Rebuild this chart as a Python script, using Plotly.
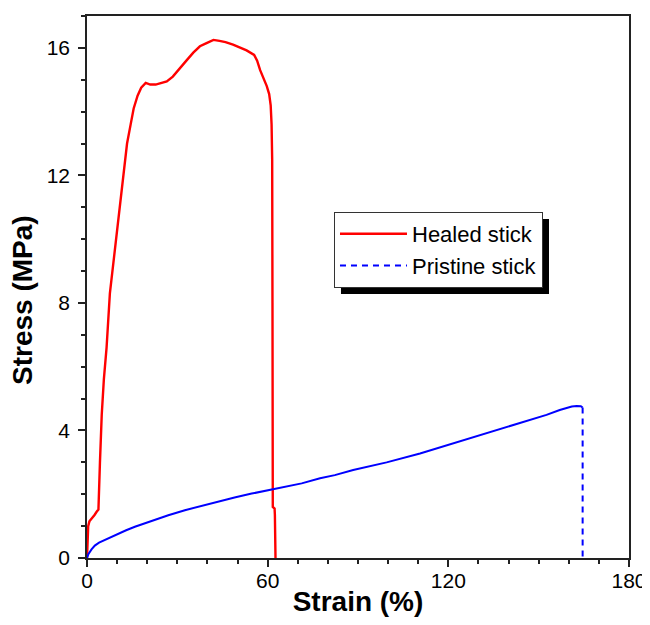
"""Stress-strain curves of healed vs pristine stick."""

import plotly.graph_objects as go

# Healed stick (red, solid)
healed_strain = [0, 0.2, 0.4, 0.8, 1.5, 2.5, 3.2, 3.8, 4.3, 4.9, 5.6, 6.5, 7.6,
                 9.2, 11.0, 12.3, 13.3, 14.5, 15.5, 16.8, 18.0, 19.5, 21.0,
                 22.8, 24.5, 26.5, 28.5, 30.9, 33.0, 35.3, 37.5, 39.7, 42.0,
                 44.0, 46.0, 48.5, 51.0, 53.0, 55.5, 56.5, 57.5, 58.7, 59.7,
                 60.5, 61.0, 61.3, 61.5, 61.6, 61.7, 62.3, 62.4, 62.6]
healed_stress = [0, 0.5, 1.0, 1.15, 1.22, 1.35, 1.45, 1.52, 3.0, 4.5, 5.6, 6.6,
                 8.3, 9.6, 11.1, 12.2, 13.0, 13.6, 14.1, 14.5, 14.75, 14.9,
                 14.85, 14.85, 14.9, 14.95, 15.1, 15.35, 15.6, 15.85, 16.05,
                 16.15, 16.25, 16.22, 16.18, 16.1, 16.0, 15.92, 15.78, 15.6,
                 15.3, 15.05, 14.8, 14.55, 14.2, 13.6, 12.5, 8.0, 1.6, 1.55,
                 1.35, 0]

# Pristine stick (blue)
pristine_strain = [0, 0.5, 1.5, 2.6, 4.0, 6.0, 8.0, 10.4, 13.0, 15.9, 21.4,
                   27.0, 32.5, 38.0, 43.6, 49.0, 54.7, 61.3, 71.3, 77.4, 82.3,
                   88.4, 99.5, 110.6, 121.6, 132.7, 143.8, 152.6, 157.0, 159.3,
                   161.0, 162.6, 164.0, 164.6]
pristine_stress = [0, 0.13, 0.27, 0.39, 0.48, 0.57, 0.66, 0.75, 0.87, 0.98,
                   1.17, 1.34, 1.5, 1.64, 1.77, 1.9, 2.02, 2.14, 2.34, 2.5,
                   2.6, 2.76, 3.0, 3.28, 3.6, 3.93, 4.23, 4.49, 4.64, 4.71,
                   4.75, 4.77, 4.76, 4.72]
break_strain = [164.6, 164.6]
break_stress = [4.72, 0]

x_ticks = [0, 60, 120, 180]
y_ticks = [0, 4, 8, 12, 16]

FONT = "Arial, Liberation Sans, sans-serif"
AXIS_COLOR = "#222222"

fig = go.Figure()

fig.add_trace(go.Scatter(
    x=healed_strain, y=healed_stress, mode="lines", name="Healed stick",
    line=dict(color="#ff0000", width=2.4)
))
fig.add_trace(go.Scatter(
    x=pristine_strain, y=pristine_stress, mode="lines", showlegend=False,
    line=dict(color="#0000ff", width=2)
))
fig.add_trace(go.Scatter(
    x=break_strain, y=break_stress, mode="lines", name="Pristine stick",
    line=dict(color="#0000ff", width=2, dash="6px,5px")
))

axis_common = dict(
    showline=True, linecolor=AXIS_COLOR, linewidth=1.5, mirror=True,
    ticks="outside", ticklen=7, tickwidth=1.5, tickcolor=AXIS_COLOR,
    showgrid=False, zeroline=False, ticklabeloverflow="allow",
    tickfont=dict(family=FONT, size=21, color="black"),
)
title_font = dict(family=FONT, size=28, color="black")

fig.update_xaxes(
    range=[0, 180], tickvals=x_ticks, ticklabelstandoff=-4,
    minor=dict(dtick=10, ticks="outside", ticklen=4, tickcolor=AXIS_COLOR,
               tickwidth=1.5),
    title=dict(text="<b>Strain (%)</b>", font=title_font, standoff=11),
    **axis_common
)
fig.update_yaxes(
    range=[0, 17], tickvals=y_ticks, ticklabelstandoff=4,
    minor=dict(dtick=1, ticks="outside", ticklen=4, tickcolor=AXIS_COLOR,
               tickwidth=1.5),
    **axis_common
)

# y axis title sits a little below the plot centre in the original
fig.add_annotation(
    text="<b>Stress (MPa)</b>", textangle=-90, showarrow=False,
    xref="paper", yref="paper", x=0, y=0.476, xanchor="center",
    yanchor="middle", xshift=-65, font=title_font
)

# legend drop shadow
fig.add_shape(type="rect", xref="paper", yref="paper",
              x0=0.4686, x1=0.8524, y0=0.4871, y1=0.6255,
              fillcolor="black", line=dict(width=0))

# the page body has an 8px margin, so the figure is offset by 8px
fig.update_layout(
    width=642, height=609,
    margin=dict(l=79, r=21, t=8, b=59, autoexpand=False),
    plot_bgcolor="white", paper_bgcolor="white",
    font=dict(family=FONT, color="black"),
    legend=dict(
        x=0.4557, y=0.6384, xanchor="left", yanchor="top",
        bgcolor="white", bordercolor="#333333", borderwidth=1,
        itemwidth=67,
        font=dict(family=FONT, size=22, color="black"),
    ),
)

fig.write_html("out.html")
